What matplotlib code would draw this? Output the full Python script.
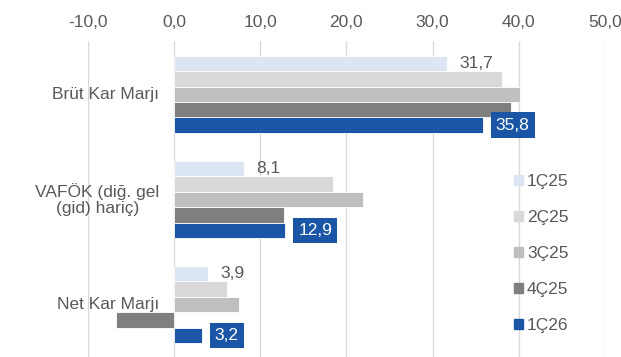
import matplotlib
matplotlib.use("Agg")
import matplotlib.pyplot as plt
from matplotlib.patches import Patch
from matplotlib.ticker import FuncFormatter
import numpy as np

plt.rcParams['font.family'] = ['Liberation Sans', 'DejaVu Sans']

categories = ["Brüt Kar Marjı", "VAFÖK (diğ. gel\n(gid) hariç)", "Net Kar Marjı"]
series = ["1Ç25", "2Ç25", "3Ç25", "4Ç25", "1Ç26"]
values = [
    [31.7, 8.1, 3.9],    # 1Ç25
    [38.0, 18.4, 6.2],   # 2Ç25
    [40.1, 21.9, 7.5],   # 3Ç25
    [39.1, 12.8, -6.7],  # 4Ç25
    [35.8, 12.9, 3.2],   # 1Ç26
]
colors = ["#DCE6F2", "#D9D9D9", "#BFBFBF", "#7F7F7F", "#1A56A5"]
text_col = "#595959"

fig = plt.figure(figsize=(6.21, 3.57), dpi=100)
ax = fig.add_axes([0.1414, 0.0, 0.9742 - 0.1414, 0.886])

h = 0.147
y = np.arange(len(categories))
for j, (name, vals) in enumerate(zip(series, values)):
    pos = y + (j - 2) * h
    bars = ax.barh(pos, vals, height=h, color=colors[j], edgecolor="white",
                   linewidth=0.6, label=name, zorder=3)
    if j == 0:
        for b, v in zip(bars, vals):
            ax.annotate(f"{v:.1f}".replace(".", ","), (v, b.get_y() + h / 2),
                        xytext=(9, 0), textcoords="offset points",
                        ha="left", va="center", fontsize=12.5, color=text_col, zorder=5)
    if j == 4:
        for b, v in zip(bars, vals):
            ax.annotate(f"{v:.1f}".replace(".", ","), (v, b.get_y() + h / 2),
                        xytext=(9.5, 0), textcoords="offset points",
                        ha="left", va="center", fontsize=12.5, color="white", zorder=6,
                        bbox=dict(boxstyle="square,pad=0.3", fc=colors[4], ec="none"))

for i, c in enumerate(categories):
    ax.text(-1.7, i, c, ha="right", va="center", multialignment="center",
            fontsize=12.5, color=text_col, zorder=2, linespacing=1.05)

ax.set_xlim(-10, 50)
ax.set_ylim(2.5, -0.51)
ax.set_xticks(np.arange(-10, 51, 10))
ax.xaxis.set_major_formatter(FuncFormatter(lambda v, p: f"{v:.1f}".replace(".", ",")))
ax.xaxis.tick_top()
ax.tick_params(axis="x", length=0, pad=8, labelsize=12.5, labelcolor=text_col)
ax.set_yticks([])
ax.grid(axis="x", color="#D9D9D9", linewidth=1, zorder=0)
for s in ax.spines.values():
    s.set_visible(False)

handles = [Patch(color=c) for c in colors]
ax.legend(handles, series, loc="upper left", bbox_to_anchor=(0.824, 0.578),
          frameon=False, fontsize=12.5, labelcolor=text_col, handlelength=0.5,
          handleheight=0.5, handletextpad=0.25, labelspacing=1.21,
          borderpad=0, borderaxespad=0)

fig.savefig("out.png", dpi=100)
